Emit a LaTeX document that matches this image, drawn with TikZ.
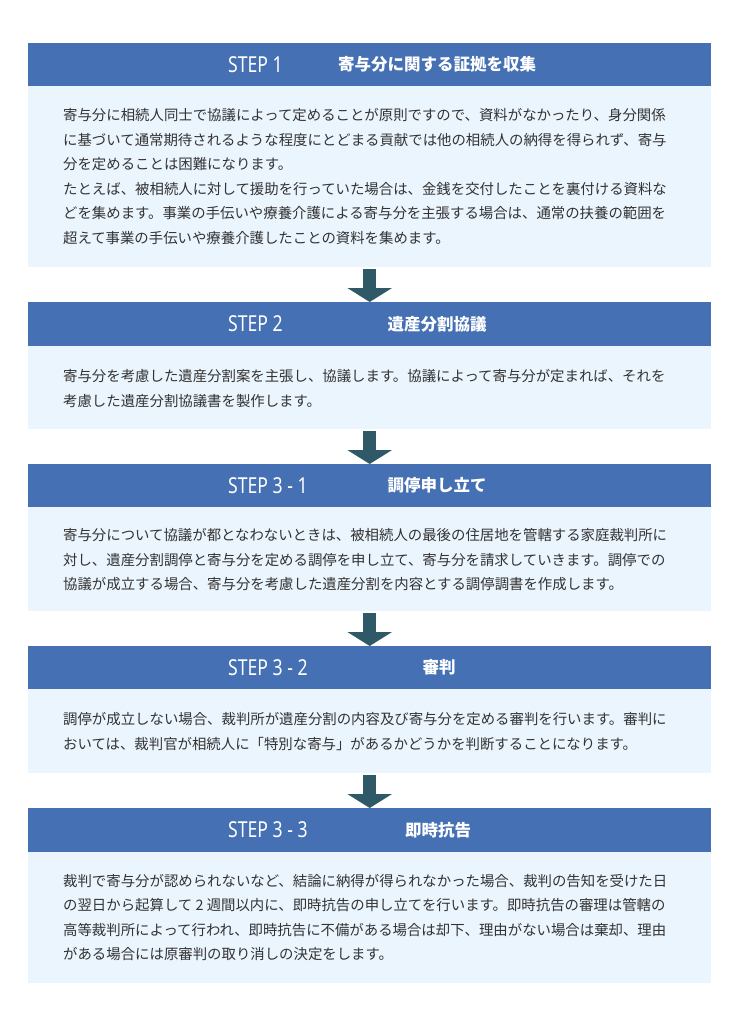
\documentclass[tikz,border=0pt]{standalone}
\usepackage{fontspec}
\newfontfamily\jp{Noto Sans CJK JP}
\newfontfamily\stepf{Noto Sans}
\usetikzlibrary{arrows.meta}
\definecolor{hdr}{HTML}{4570B4}
\definecolor{bdy}{HTML}{EBF5FE}
\definecolor{arw}{HTML}{2F5967}
\definecolor{txt}{HTML}{333333}
\tikzset{
  hdrbox/.style={fill=hdr, draw=none, inner sep=0, anchor=north west, minimum width=683bp},
  bodybox/.style={fill=bdy, draw=none, inner sep=0, anchor=north west, minimum width=683bp},
  steplabel/.style={text=white, inner sep=0, anchor=west, font=\stepf\fontsize{22bp}{26bp}\selectfont},
  titlelabel/.style={text=white, inner sep=0, anchor=center, font=\jp\bfseries\fontsize{16.5bp}{20bp}\selectfont},
  bodytext/.style={text=txt, inner sep=0, anchor=west, align=left, font=\jp\fontsize{14.4bp}{24.5bp}\selectfont},
  flowarrow/.style={draw=arw, line width=13bp, -{Triangle[width=44bp,length=14bp]}, shorten <=2bp}
}
\newcommand{\stp}[1]{\scalebox{0.8}[1]{#1}}
\begin{document}
\begin{tikzpicture}[x=1bp,y=-1bp]
\useasboundingbox (0,0) rectangle (739,1024);
\fill[white] (0,0) rectangle (739,1024);
% STEP 1
\node[hdrbox, minimum height=43bp] (h1) at (28,43) {};
\node[bodybox, minimum height=181bp] (b1) at (28,86) {};
\node[steplabel] (s1) at (228,64.5) {\stp{STEP 1}};
\node[titlelabel] (t1) at (437,64.5) {寄与分に関する証拠を収集};
\node[bodytext] (x1) at (63,176.5) {寄与分に相続人同士で協議によって定めることが原則ですので、資料がなかったり、身分関係\\
に基づいて通常期待されるような程度にとどまる貢献では他の相続人の納得を得られず、寄与\\
分を定めることは困難になります。\\
たとえば、被相続人に対して援助を行っていた場合は、金銭を交付したことを裏付ける資料な\\
どを集めます。事業の手伝いや療養介護による寄与分を主張する場合は、通常の扶養の範囲を\\
超えて事業の手伝いや療養介護したことの資料を集めます。};
% STEP 2
\node[hdrbox, minimum height=44bp] (h2) at (28,302) {};
\node[bodybox, minimum height=83bp] (b2) at (28,346) {};
\node[steplabel] (s2) at (228,324) {\stp{STEP 2}};
\node[titlelabel] (t2) at (437,324) {遺産分割協議};
\node[bodytext] (x2) at (63,388.5) {寄与分を考慮した遺産分割案を主張し、協議します。協議によって寄与分が定まれば、それを\\
考慮した遺産分割協議書を製作します。};
% STEP 3-1
\node[hdrbox, minimum height=43bp] (h3) at (28,464) {};
\node[bodybox, minimum height=104bp] (b3) at (28,507) {};
\node[steplabel] (s3) at (228,485.5) {\stp{STEP 3 - 1}};
\node[titlelabel] (t3) at (437,485.5) {調停申し立て};
\node[bodytext] (x3) at (63,560) {寄与分について協議が都となわないときは、被相続人の最後の住居地を管轄する家庭裁判所に\\
対し、遺産分割調停と寄与分を定める調停を申し立て、寄与分を請求していきます。調停での\\
協議が成立する場合、寄与分を考慮した遺産分割を内容とする調停調書を作成します。};
% STEP 3-2
\node[hdrbox, minimum height=43bp] (h4) at (28,646) {};
\node[bodybox, minimum height=84bp] (b4) at (28,689) {};
\node[steplabel] (s4) at (228,667.5) {\stp{STEP 3 - 2}};
\node[titlelabel] (t4) at (439,667.5) {審判};
\node[bodytext] (x4) at (63,731.5) {調停が成立しない場合、裁判所が遺産分割の内容及び寄与分を定める審判を行います。審判に\\
おいては、裁判官が相続人に「特別な寄与」があるかどうかを判断することになります。};
% STEP 3-3
\node[hdrbox, minimum height=44bp] (h5) at (28,808) {};
\node[bodybox, minimum height=131bp] (b5) at (28,852) {};
\node[steplabel] (s5) at (228,830) {\stp{STEP 3 - 3}};
\node[titlelabel] (t5) at (438,830) {即時抗告};
\node[bodytext] (x5) at (63,917.5) {裁判で寄与分が認められないなど、結論に納得が得られなかった場合、裁判の告知を受けた日\\
の翌日から起算して 2 週間以内に、即時抗告の申し立てを行います。即時抗告の審理は管轄の\\
高等裁判所によって行われ、即時抗告に不備がある場合は却下、理由がない場合は棄却、理由\\
がある場合には原審判の取り消しの決定をします。};
% arrows
\draw[flowarrow] (b1.south) -- (h2.north);
\draw[flowarrow] (b2.south) -- (h3.north);
\draw[flowarrow] (b3.south) -- (h4.north);
\draw[flowarrow] (b4.south) -- (h5.north);
\end{tikzpicture}
\end{document}
